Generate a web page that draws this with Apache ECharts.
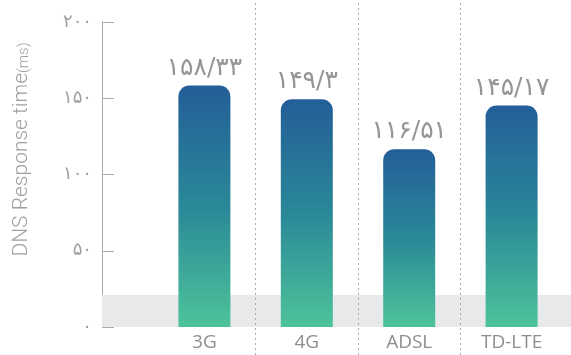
<!DOCTYPE html>
<html><head><meta charset="utf-8">
<script src="https://cdn.jsdelivr.net/npm/echarts@6/dist/echarts.min.js"></script>
<style>html,body{margin:0;padding:0;background:#fff}#c{width:571px;height:355px}</style>
</head><body><div id="c"></div>
<script>
var categories = ['3G', '4G', 'ADSL', 'TD-LTE'];
var values = [158.33, 149.3, 116.51, 145.17];
var yTicks = [0, 50, 100, 150, 200];
var bandValue = 21;

var fa = ['۰','۱','۲','۳','۴','۵','۶','۷','۸','۹'];
function toFa(v) {
  return String(v).replace(/[0-9]/g, function (d) { return fa[+d]; }).replace('.', '/');
}
var xMax = 4.58;
var chart = echarts.init(document.getElementById('c'));
chart.setOption({
  animation: false,
  grid: [
    { left: 102, right: 0, top: 22, bottom: 28 },
    { left: 102, right: 0, top: 0, bottom: 0 }
  ],
  xAxis: [{
    type: 'value', min: 0, max: xMax, interval: 1, gridIndex: 0,
    axisLine: { show: false }, axisTick: { show: false }, splitLine: { show: false },
    axisLabel: {
      showMaxLabel: false,
      formatter: function (v) { return categories[v - 1] || ''; },
      color: '#8e8e8e', fontSize: 19, fontFamily: 'Open Sans', margin: 6
    }
  }, {
    type: 'value', min: 0, max: xMax, gridIndex: 1, show: false
  }],
  yAxis: [{
    type: 'value', min: yTicks[0], max: yTicks[yTicks.length - 1], interval: 50, gridIndex: 0,
    axisLine: { show: true, lineStyle: { color: '#aaaaaa', width: 1 } },
    axisTick: { show: true, inside: true, length: 12, lineStyle: { color: '#aaaaaa' } },
    splitLine: { show: false },
    axisLabel: { formatter: function (v) { return toFa(v); }, color: '#a0a0a0', fontSize: 18, fontFamily: 'DejaVu Sans', margin: 10 },
    name: '{a|DNS Response time}{b|(ms)}',
    nameLocation: 'middle', nameGap: 70,
    nameTextStyle: {
      padding: [0, 0, 0, 50],
      rich: {
        a: { fontSize: 21, color: '#a0a0a0', fontFamily: 'Roboto', fontWeight: 300 },
        b: { fontSize: 15, color: '#a0a0a0', fontFamily: 'Roboto', fontWeight: 300, padding: [5, 0, 0, 0] }
      }
    }
  }, {
    type: 'value', min: 0, max: 1, gridIndex: 1, show: false
  }],
  series: [{
    type: 'line', xAxisIndex: 1, yAxisIndex: 1, data: [[1.5, 0.5]], showSymbol: false, symbolSize: 0,
    lineStyle: { opacity: 0 }, silent: true,
    markLine: {
      silent: true, symbol: ['none', 'none'], label: { show: false },
      lineStyle: { type: [2, 3], color: '#aaaaaa', width: 1 },
      data: [{ xAxis: 1.5 }, { xAxis: 2.5 }, { xAxis: 3.5 }]
    }
  }, {
    type: 'bar', xAxisIndex: 0, yAxisIndex: 0, barWidth: 52,
    data: values.map(function (v, i) { return [i + 1, v]; }),
    itemStyle: {
      borderRadius: [11, 11, 0, 0],
      color: new echarts.graphic.LinearGradient(0, 0, 0, 1, [
        { offset: 0, color: '#235e98' },
        { offset: 0.5, color: '#2a8898' },
        { offset: 1, color: '#4dc39a' }
      ])
    },
    label: {
      show: true, position: 'top', distance: 5,
      formatter: function (p) { return toFa(p.value[1]); },
      color: '#959595', fontSize: 25, fontFamily: 'DejaVu Sans'
    },
    markArea: {
      silent: true,
      itemStyle: { color: '#e8e9eb' },
      data: [[{ yAxis: 0 }, { yAxis: bandValue }]]
    },
    z: 2
  }]
});
</script></body></html>
